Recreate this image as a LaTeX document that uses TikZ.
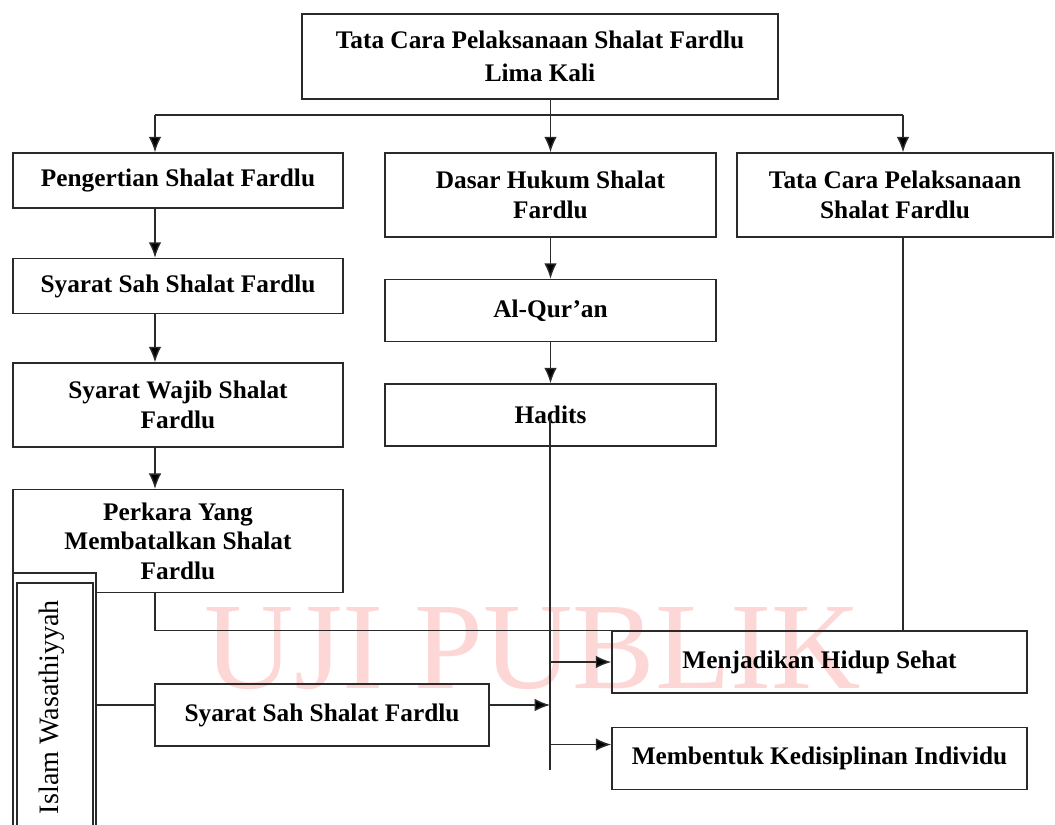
\documentclass[tikz,border=0pt]{standalone}
\usepackage{fontspec}
\setmainfont{Liberation Serif}
\usetikzlibrary{positioning, arrows.meta}
\definecolor{lightpink}{RGB}{253,214,214}
\definecolor{darkline}{HTML}{2a2a2a}
\tikzstyle{box} = [rectangle, draw=darkline, line width=1.1pt, text centered, align=center, font=\fontsize{18}{21}\selectfont\bfseries]
\tikzstyle{sidebox} = [rectangle, draw=darkline, line width=1.6pt, fill=white, font=\fontsize{20}{24}\selectfont]
\tikzstyle{frame} = [rectangle, draw=darkline, line width=0.9pt, fill=white]
\tikzstyle{line} = [draw=darkline, line width=1pt]
\tikzstyle{arrow} = [line, ->, >={Latex[length=11pt,width=9pt,fill=black]}]

\begin{document}
\begin{tikzpicture}[node distance=1.025cm]
    \useasboundingbox (0,0) rectangle (26.375,-20.6);
    \clip (0,0) rectangle (26.375,-20.6);

    % watermark
    \node (wm) [text=lightpink, font=\fontsize{88}{88}\selectfont, anchor=base] at (13.325,-17.2) {UJI PUBLIK};

    \node (top) [box, minimum width=11.9cm, minimum height=2.125cm] at (13.5,-1.4125) {Tata Cara Pelaksanaan Shalat Fardlu\\[2pt]Lima Kali};

    % left column
    \node (peng) [box, minimum width=8.25cm, minimum height=1.375cm] at (4.45,-4.5125) {Pengertian Shalat Fardlu};
    \node (sah) [box, minimum width=8.25cm, minimum height=1.375cm, below=1.225cm of peng] {Syarat Sah Shalat Fardlu};
    \node (wajib) [box, minimum width=8.25cm, minimum height=2.1cm, below=1.2cm of sah] {Syarat Wajib Shalat\\Fardlu};
    \node (perkara) [box, minimum width=8.25cm, minimum height=2.575cm, below=of wajib] {Perkara Yang\\Membatalkan Shalat\\Fardlu};

    % middle column
    \node (dasar) [box, minimum width=8.275cm, minimum height=2.1cm] at (13.7625,-4.875) {Dasar Hukum Shalat\\Fardlu};
    \node (quran) [box, minimum width=8.275cm, minimum height=1.55cm, below=of dasar] {Al-Qur’an};
    \node (hadits) [box, minimum width=8.275cm, minimum height=1.55cm, below=of quran] {Hadits};

    % right column
    \node (tata) [box, minimum width=7.9cm, minimum height=2.1cm] at (22.375,-4.875) {Tata Cara Pelaksanaan\\Shalat Fardlu};
    \node (hidup) [box, minimum width=10.375cm, minimum height=1.55cm] at (20.4875,-16.55) {Menjadikan Hidup Sehat};
    \node (disiplin) [box, minimum width=10.375cm, minimum height=1.55cm, below=0.825cm of hidup] {Membentuk Kedisiplinan Individu};

    \node (sah2) [box, minimum width=8.35cm, minimum height=1.55cm] at (8.05,-17.875) {Syarat Sah Shalat Fardlu};

    % side box
    \node (islamframe) [frame, minimum width=2.075cm, minimum height=6.55cm] at (1.3625,-17.6) {};
    \node (islam) [sidebox, minimum width=1.9cm, minimum height=6.2cm] at (1.375,-17.675) {\rotatebox{90}{\raisebox{0.3cm}{Islam Wasathiyyah}}};

    \coordinate (busL) at (3.875,-2.875);
    \coordinate (busR) at (22.575,-2.875);
    \coordinate (trunktop) at (13.75,-10.475);
    \coordinate (trunkbot) at (13.75,-19.25);

    \draw[line] (busL) -- (busR);
    \draw[arrow] (top.south -| dasar.north) -- (dasar.north);
    \draw[arrow] (busL) -- (peng.north -| busL);
    \draw[arrow] (busR) -- (tata.north -| busR);

    \draw[arrow] (peng.south -| busL) -- (sah.north -| busL);
    \draw[arrow] (sah.south -| busL) -- (wajib.north -| busL);
    \draw[arrow] (wajib.south -| busL) -- (perkara.north -| busL);
    \draw[arrow] (dasar.south) -- (quran.north);
    \draw[arrow] (quran.south) -- (hadits.north);

    \draw[line] (perkara.south -| busL) |- (hidup.north west);
    \draw[line] (tata.south -| busR) -- (hidup.north -| busR);

    \draw[line] (trunktop) -- (trunkbot);
    \draw[arrow] (hidup.west -| trunktop) -- (hidup.west);
    \draw[arrow] ([yshift=0.35cm]disiplin.west -| trunktop) -- ([yshift=0.35cm]disiplin.west);
    \draw[arrow] ([yshift=0.25cm]sah2.east) -- ([yshift=0.25cm]sah2.east -| trunktop);
    \draw[line] ([yshift=0.25cm]sah2.west -| islamframe.east) -- ([yshift=0.25cm]sah2.west);
\end{tikzpicture}
\end{document}
